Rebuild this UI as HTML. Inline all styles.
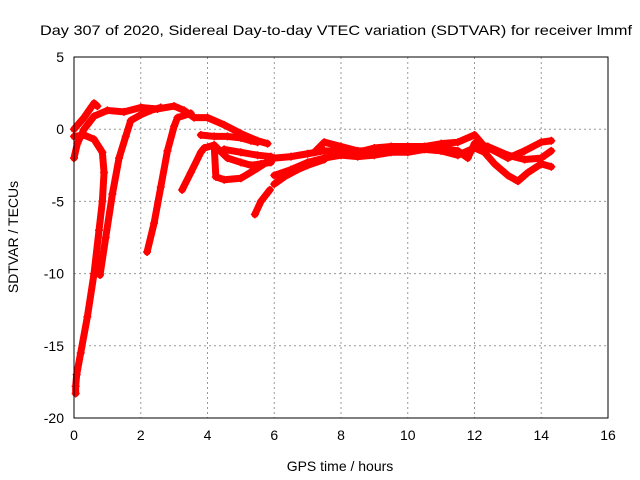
<!DOCTYPE html>
<html><head><meta charset="utf-8"><style>
body{margin:0;background:#fff}
svg{display:block;font-family:"Liberation Sans",sans-serif}
</style></head><body>
<svg id="chart" width="640" height="480" viewBox="0 0 640 480">
<text x="40" y="35" font-size="14" textLength="592" lengthAdjust="spacingAndGlyphs">Day 307 of 2020, Sidereal Day-to-day VTEC variation (SDTVAR) for receiver lmmf</text>
<g id="grid"></g>
<g id="marks"></g>
<rect x="74" y="57" width="534" height="361" fill="none" stroke="#000" stroke-width="1"/>
<g id="ticks"></g>
<text x="340" y="471" font-size="14" text-anchor="middle">GPS time / hours</text>
<text transform="translate(18,237) rotate(-90)" font-size="14" text-anchor="middle">SDTVAR / TECUs</text>
</svg>
<script>
const xTicks=[0,2,4,6,8,10,12,14,16];
const yTicks=[5,0,-5,-10,-15,-20];
const seriesA_x=[0,0.15,0.3,0.45,0.6,0.7];
const seriesA_y=[0,0.4,0.8,1.3,1.8,1.6];
const seriesB_x=[0,0.1,0.3,0.6,1,1.5,2,2.5,3,3.3,3.6,4,4.5,5,5.5,5.8];
const seriesB_y=[-2,-1,0,0.9,1.3,1.2,1.5,1.4,1.6,1.3,0.8,0.8,0.3,-0.3,-0.8,-1.0];
const seriesC_x=[0,0.3,0.6,0.85,0.9,0.85,0.75,0.6,0.4,0.2,0.08,0.05,0.05];
const seriesC_y=[-0.5,-0.4,-0.7,-1.6,-3,-5,-7,-10,-13,-15.5,-17,-17.8,-18.3];
const seriesD_x=[0.78,0.95,1.15,1.35,1.55,1.7,2.0,2.3,2.6];
const seriesD_y=[-10.1,-7.5,-4.5,-2,-0.5,0.6,1.0,1.3,1.5];
const seriesE_x=[2.19,2.4,2.6,2.8,3.0,3.1,3.5];
const seriesE_y=[-8.5,-6.5,-4,-1.5,0.2,0.8,1.1];
const seriesF_x=[3.24,3.5,3.8,3.9,4.2,4.25,4.5,5.0,5.5,5.9];
const seriesF_y=[-4.2,-3,-1.6,-1.3,-1.1,-3.3,-3.5,-3.4,-2.7,-2.1];
const seriesF2_x=[4.2,4.6,5.0,5.3,5.6,5.9];
const seriesF2_y=[-1.1,-2.0,-2.3,-2.5,-2.4,-2.3];
const seriesG_x=[3.8,4.2,4.6,5.0,5.3,5.5];
const seriesG_y=[-0.4,-0.5,-0.5,-0.6,-0.8,-0.9];
const seriesH_x=[4.5,5.0,5.5,5.9];
const seriesH_y=[-1.4,-1.6,-1.8,-1.9];
const seriesI_x=[5.42,5.6,5.87];
const seriesI_y=[-5.9,-5.0,-4.2];
const seriesR1_x=[6,6.5,7,7.5,8,8.5,9,9.5,10,10.5,11,11.5,12,12.3,12.6,13,13.5,14,14.3];
const seriesR1_y=[-2.0,-1.9,-1.7,-1.5,-1.5,-1.6,-1.3,-1.2,-1.2,-1.2,-1.0,-0.9,-0.4,-1.2,-1.5,-2.0,-1.5,-0.9,-0.8];
const seriesR2_x=[6,6.5,7,7.5,8,8.5,9,9.5,10,10.5,11,11.5,12,12.3,12.6,13,13.3,13.6,14,14.3];
const seriesR2_y=[-3.2,-2.8,-2.3,-2.0,-1.8,-1.9,-1.8,-1.6,-1.6,-1.4,-1.5,-1.8,-1.3,-1.6,-2.4,-3.2,-3.6,-3.0,-2.4,-2.6];
const seriesR3_x=[7.2,7.5,8,8.5,9,9.5,10,10.5,11,11.5,11.8,12,12.4,13,13.5,14,14.3];
const seriesR3_y=[-1.6,-0.9,-1.2,-1.5,-1.5,-1.3,-1.4,-1.3,-1.3,-1.5,-2.0,-1.0,-1.2,-1.8,-2.1,-2.0,-1.5];
const seriesR4_x=[6,6.3,6.7,7,7.5];
const seriesR4_y=[-3.8,-3.3,-2.8,-2.5,-2.1];
const allSeries=[[seriesA_x,seriesA_y],[seriesB_x,seriesB_y],[seriesC_x,seriesC_y],[seriesD_x,seriesD_y],[seriesE_x,seriesE_y],[seriesF_x,seriesF_y],[seriesF2_x,seriesF2_y],[seriesG_x,seriesG_y],[seriesH_x,seriesH_y],[seriesI_x,seriesI_y],[seriesR1_x,seriesR1_y],[seriesR2_x,seriesR2_y],[seriesR3_x,seriesR3_y],[seriesR4_x,seriesR4_y]];
const NS='http://www.w3.org/2000/svg';
const X0=74,X1=608,Y0=57,Y1=418;
function sx(v){return X0+(v-0)/(16-0)*(X1-X0);}
function sy(v){return Y0+(5-v)/(5-(-20))*(Y1-Y0);}
const grid=document.getElementById('grid'),ticks=document.getElementById('ticks'),marks=document.getElementById('marks');
function mk(tag,attrs,parent){const e=document.createElementNS(NS,tag);for(const k in attrs)e.setAttribute(k,attrs[k]);parent.appendChild(e);return e;}
xTicks.forEach(t=>{
  const x=sx(t);
  if(t>0&&t<16){const g=mk('line',{x1:x,x2:x,y1:Y0,y2:Y1,stroke:'#999','stroke-dasharray':'2,3'},grid);
  
  }
  const l=mk('text',{x:x,y:Y1+22,'font-size':14,'text-anchor':'middle'},ticks);l.textContent=t;
  
  
});
yTicks.forEach(t=>{
  const y=sy(t);
  if(t<5&&t>-20){const g=mk('line',{x1:X0,x2:X1,y1:y,y2:y,stroke:'#999','stroke-dasharray':'2,3'},grid);
  
  }
  const l=mk('text',{x:X0-10,y:y+5,'font-size':14,'text-anchor':'end'},ticks);l.textContent=t;
  
  
});
allSeries.forEach(([xs,ys])=>{
  const pts=xs.map((v,i)=>sx(v)+','+sy(ys[i])).join(' ');
  const pl=mk('polyline',{points:pts,fill:'none',stroke:'#f00','stroke-width':7,'stroke-linejoin':'round','stroke-linecap':'round'},marks);
  
  
  xs.forEach((v,i)=>{
    const cx=sx(v),cy=sy(ys[i]);
    const p=mk('path',{d:`M${cx-4},${cy}H${cx+4}M${cx},${cy-4}V${cy+4}`,stroke:'#f00','stroke-width':1.5},marks);
    
    
  });
});
</script>
</body></html>
